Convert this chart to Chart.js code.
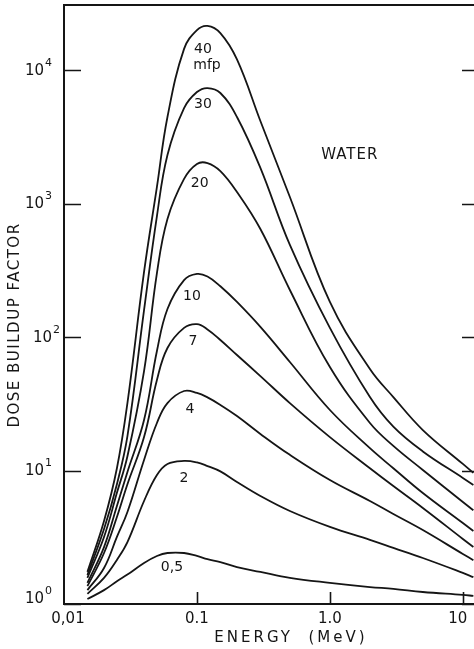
<!DOCTYPE html>
<html>
<head>
<meta charset="utf-8">
<script src="https://cdn.jsdelivr.net/npm/chart.js@4/dist/chart.umd.min.js"></script>
<style>
  html, body { margin: 0; padding: 0; overflow: hidden; background: #fff; }
  canvas { display: block; }
</style>
</head>
<body>
<canvas id="buildupChart" width="482" height="649"></canvas>
<script>
// photon energy (MeV) and dose buildup factor, one array per depth
const energy = [0.015, 0.02, 0.025, 0.03, 0.04, 0.05, 0.06, 0.08, 0.1, 0.12, 0.15, 0.2, 0.3, 0.5, 1, 2, 3, 5, 10, 12];
const mfp40 = [1.74, 4.19, 10.4, 32.0, 307, 1330, 4450, 14400, 19900, 21400, 18900, 12000, 4150, 1120, 183, 57.6, 35.5, 20.1, 11.2, 9.6];
const mfp30 = [1.65, 3.65, 7.9, 18.1, 159, 806, 2310, 5190, 6840, 7330, 6730, 4450, 1850, 490, 117, 35.5, 21.3, 13.9, 8.8, 7.8];
const mfp20 = [1.57, 3.18, 6.8, 12.8, 55.6, 301, 766, 1530, 1980, 2010, 1750, 1220, 644, 225, 59.6, 22.7, 15.3, 10.1, 5.81, 5.04];
const mfp10 = [1.44, 2.67, 5.42, 9.75, 23.9, 78.5, 162, 267, 297, 284, 240, 183, 119, 65, 28.4, 14.7, 10.4, 6.78, 4.04, 3.52];
const mfp7 = [1.36, 2.41, 4.48, 7.9, 17.8, 47.6, 82.7, 117, 125, 114, 95, 73.3, 51, 32.0, 17.8, 10.4, 7.65, 5.24, 3.07, 2.67];
const mfp4 = [1.27, 1.86, 3.18, 4.89, 12.0, 22.7, 32.0, 39.4, 38.1, 35.3, 31.0, 25.6, 18.8, 13.1, 8.49, 5.91, 4.72, 3.58, 2.37, 2.13];
const mfp2 = [1.19, 1.57, 2.14, 2.91, 5.91, 9.25, 11.2, 11.8, 11.5, 10.8, 9.85, 8.2, 6.44, 4.97, 3.78, 3.02, 2.63, 2.21, 1.71, 1.59];
const mfp05 = [1.09, 1.27, 1.48, 1.66, 2.03, 2.29, 2.41, 2.41, 2.29, 2.17, 2.06, 1.89, 1.74, 1.57, 1.44, 1.34, 1.30, 1.23, 1.17, 1.15];

const seriesNames = ['40', '30', '20', '10', '7', '4', '2', '0,5'];
const seriesValues = [mfp40, mfp30, mfp20, mfp10, mfp7, mfp4, mfp2, mfp05];

const yTicks = [1, 10, 100, 1000, 10000];
const yTickExp = ['0', '1', '2', '3', '4'];
const xTicks = [0.1, 1, 10];
const xTickValues = [0.01, 0.1, 1, 10];
const xTickLabels = ['0,01', '0.1', '1.0', '10'];

// curve labels, anchored in data units
const curveLabels = [
  { text: '40', e: 0.111, b: 14400 },
  { text: 'mfp', e: 0.119, b: 10900 },
  { text: '30', e: 0.111, b: 5560 },
  { text: '20', e: 0.105, b: 1425 },
  { text: '10', e: 0.0917, b: 203 },
  { text: '7', e: 0.0932, b: 93 },
  { text: '4', e: 0.0886, b: 28.9 },
  { text: '2', e: 0.0799, b: 8.8 },
  { text: '0,5', e: 0.0649, b: 1.89 },
];

const INK = '#151515';
const FONT = '"DejaVu Sans", sans-serif';

const framePlugin = {
  id: 'frame',
  afterDraw(chart) {
    const { ctx, chartArea: a, scales: { x, y } } = chart;
    ctx.save();
    ctx.strokeStyle = INK;
    ctx.fillStyle = INK;
    ctx.lineWidth = 2;
    ctx.strokeRect(a.left, a.top, a.right - a.left, a.bottom - a.top);

    // ticks point inward
    ctx.lineWidth = 1.6;
    yTicks.forEach((v) => {
      const py = Math.round(y.getPixelForValue(v)) + 0.5;
      ctx.beginPath();
      ctx.moveTo(a.left, py); ctx.lineTo(a.left + 17, py);
      ctx.moveTo(a.right, py); ctx.lineTo(a.right - 16, py);
      ctx.stroke();
    });
    xTicks.forEach((v) => {
      const px = Math.round(x.getPixelForValue(v)) + 0.5;
      ctx.beginPath();
      ctx.moveTo(px, a.bottom); ctx.lineTo(px, a.bottom - 12);
      ctx.stroke();
    });

    // y tick labels 10^n
    yTicks.forEach((v, i) => {
      let py = y.getPixelForValue(v);
      if (i === 0) py -= 6;
      const x0 = i === 2 ? 33 : 25;
      ctx.font = '15px ' + FONT;
      ctx.textAlign = 'left';
      ctx.textBaseline = 'middle';
      ctx.fillText('10', x0, py + 1);
      ctx.font = '11px ' + FONT;
      ctx.fillText(yTickExp[i], x0 + 20, py - 7);
    });

    // x tick labels
    ctx.font = '15px ' + FONT;
    ctx.textAlign = 'center';
    ctx.textBaseline = 'middle';
    xTickValues.forEach((v, i) => {
      let px = x.getPixelForValue(v);
      if (i === 0) px += 4;
      if (i === 3) px -= 5;
      ctx.fillText(xTickLabels[i], px, 619);
    });

    // axis titles
    ctx.letterSpacing = '3px';
    ctx.fillText('ENERGY  (MeV)', 291, 638);
    ctx.save();
    ctx.translate(15, 325);
    ctx.rotate(-Math.PI / 2);
    ctx.letterSpacing = '1.5px';
    ctx.fillText('DOSE BUILDUP FACTOR', 0, 0);
    ctx.restore();

    ctx.letterSpacing = '1px';
    ctx.fillText('WATER', x.getPixelForValue(1.41), y.getPixelForValue(2310));

    ctx.letterSpacing = '0px';
    ctx.font = '14px ' + FONT;
    curveLabels.forEach((l) => {
      ctx.fillText(l.text, x.getPixelForValue(l.e), y.getPixelForValue(l.b));
    });
    ctx.restore();
  },
};

new Chart(document.getElementById('buildupChart'), {
  type: 'line',
  data: {
    datasets: seriesValues.map((vals, i) => ({
      label: seriesNames[i] + ' mfp',
      data: energy.map((e, j) => ({ x: e, y: vals[j] })),
      borderColor: INK,
      borderWidth: 1.8,
      pointRadius: 0,
      fill: false,
      tension: 0.4,
    })),
  },
  plugins: [framePlugin],
  options: {
    responsive: false,
    animation: false,
    layout: { padding: { left: 64, top: 5, right: 4, bottom: 45 } },
    plugins: { legend: { display: false }, tooltip: { enabled: false } },
    scales: {
      x: { type: 'logarithmic', min: 0.01, max: 13, display: false },
      y: { type: 'logarithmic', min: 1, max: 30700, display: false },
    },
  },
});
</script>
</body>
</html>
